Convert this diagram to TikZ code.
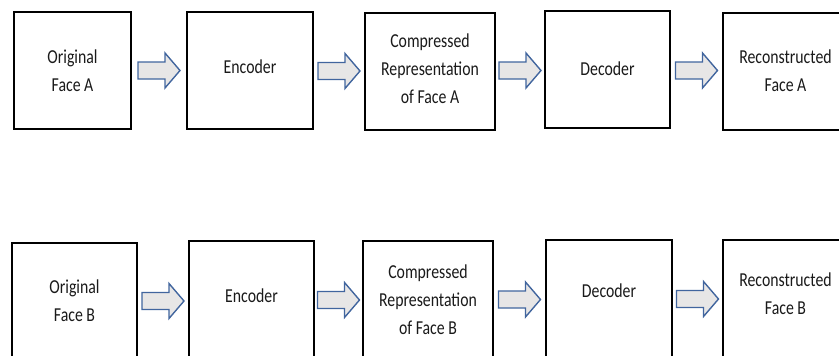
\documentclass[tikz,border=0pt]{standalone}
\usepackage{fontspec}
\setmainfont{Carlito}
\usetikzlibrary{calc}

\definecolor{arrowline}{HTML}{41659E}
\definecolor{arrowfill}{HTML}{E7E6E6}
\definecolor{labeltext}{HTML}{1A1A1A}

% Stage label: Calibri-like text, slightly stretched vertically;
% the optional argument lifts the text inside its box (in pt)
\newcommand\boxlabel[2][0]{\raisebox{#1pt}[\height][\depth]{%
  \scalebox{1}[1.25]{\fontsize{15.8}{22.4}\selectfont
  \begin{tabular}{@{}c@{}}#2\end{tabular}}}}

% Block arrow centred in the gap between two stages
\newcommand\flowarrow[2]{%
  \coordinate (#1-#2) at ($(#1.east)!0.5!(#2.west)$);
  \draw[flowarr] (#1-#2) ++(-21,-8.5) -- ++(27,0) -- ++(0,-9) -- ++(15,17.5)
    -- ++(-15,17.5) -- ++(0,-9) -- ++(-27,0) -- cycle;}

\begin{document}
\begin{tikzpicture}[x=1pt,y=-1pt,
  stage/.style={draw=black, line width=1.6pt, fill=white, inner sep=0pt,
    text=labeltext},
  flowarr/.style={draw=arrowline, line width=1.4pt, fill=arrowfill,
    line join=miter}]
\useasboundingbox (0,0) rectangle (839,356);

% Face A pipeline
\node[stage, minimum width=117, minimum height=117] (a1) at (72.5,70.5)
  {\boxlabel[-1]{Original\\Face A}};
\node[stage, minimum width=126, minimum height=117] (a2) at (250,70.5)
  {\boxlabel[2.5]{Encoder}};
\node[stage, minimum width=130, minimum height=117] (a3) at (430,71.5)
  {\boxlabel[1.5]{Compressed\\Representation\\of Face A}};
\node[stage, minimum width=125, minimum height=117] (a4) at (607.5,69.5)
  {\boxlabel{Decoder}};
\node[stage, minimum width=125, minimum height=117] (a5) at (785.5,71.5)
  {\boxlabel{Reconstructed\\Face A}};

% Face B pipeline
\node[stage, minimum width=125, minimum height=118] (b1) at (74.5,302)
  {\boxlabel{Original\\Face B}};
\node[stage, minimum width=125, minimum height=118] (b2) at (251.5,300)
  {\boxlabel[3.5]{Encoder}};
\node[stage, minimum width=130, minimum height=118] (b3) at (428,300)
  {\boxlabel[-1]{Compressed\\Representation\\of Face B}};
\node[stage, minimum width=126, minimum height=118] (b4) at (609,299)
  {\boxlabel[7.5]{Decoder}};
\node[stage, minimum width=125, minimum height=118] (b5) at (785.5,299)
  {\boxlabel[4]{Reconstructed\\Face B}};

\flowarrow{a1}{a2}
\flowarrow{a2}{a3}
\flowarrow{a3}{a4}
\flowarrow{a4}{a5}
\flowarrow{b1}{b2}
\flowarrow{b2}{b3}
\flowarrow{b3}{b4}
\flowarrow{b4}{b5}
\end{tikzpicture}
\end{document}
